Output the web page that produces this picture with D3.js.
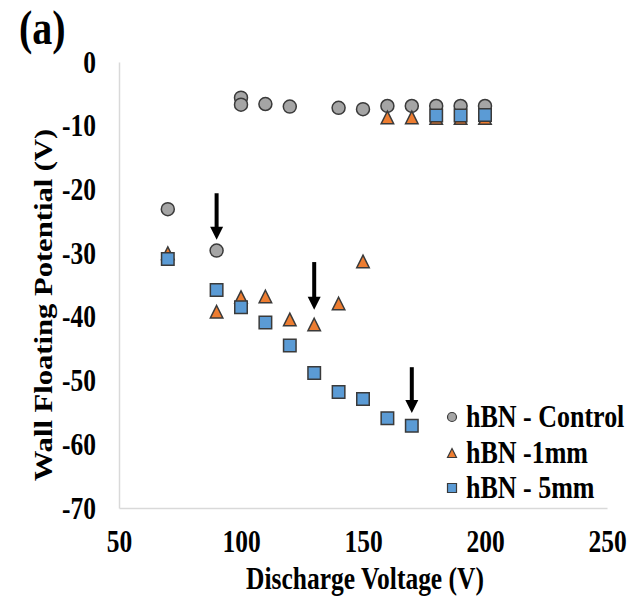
<!DOCTYPE html>
<html>
<head>
<meta charset="utf-8">
<script src="https://cdn.jsdelivr.net/npm/d3@7"></script>
<style>
  html, body { margin: 0; padding: 0; background: #fff; }
  svg { display: block; }
  text { font-family: "Liberation Serif", "Times New Roman", serif; font-weight: bold; fill: #000; }
</style>
</head>
<body>
<svg id="chart" width="640" height="597"></svg>
<script>
// ---- data ----
const xTicks = [50, 100, 150, 200, 250];
const yTicks = [0, -10, -20, -30, -40, -50, -60, -70];

const controlV = [70, 90, 100, 100, 110, 120, 140, 150, 160, 170, 180, 190, 200];
const controlP = [-23.1, -29.6, -5.6, -6.7, -6.6, -7.0, -7.2, -7.4, -6.9, -6.9, -6.9, -6.9, -6.9];

const mm1V = [70, 90, 100, 110, 120, 130, 140, 150, 160, 170, 180, 190, 200];
const mm1P = [-30.0, -39.2, -36.9, -36.8, -40.4, -41.2, -37.9, -31.3, -8.7, -8.7, -8.8, -8.8, -8.8];

const mm5V = [70, 90, 100, 110, 120, 130, 140, 150, 160, 170, 180, 190, 200];
const mm5P = [-30.9, -35.8, -38.5, -40.9, -44.5, -48.8, -51.8, -52.9, -55.9, -57.1, -8.4, -8.4, -8.3];

const seriesNames = ["hBN - Control", "hBN -1mm", "hBN - 5mm"];
const seriesColors = ["#a5a5a5", "#ed7d31", "#5b9bd5"];
const seriesShapes = ["circle", "triangle", "square"];

// arrows: [voltage, from, to]
const arrowV = [90, 130, 170];
const arrowFrom = [-20.6, -31.4, -47.9];
const arrowTo = [-27.9, -38.9, -55.1];

const xLabel = "Discharge Voltage (V)";
const yLabel = "Wall Floating Potential (V)";
const panelLabel = "(a)";

// ---- layout ----
const SY = 1.2; // vertical stretch of text
const FS = 25.5;
const plot = { left: 119, right: 607, top: 62, bottom: 508 };

const svg = d3.select("#chart");
const x = d3.scaleLinear().domain([50, 250]).range([plot.left, plot.right]);
const y = d3.scaleLinear().domain([-70, 0]).range([plot.bottom, plot.top]);

const fmt = d => String(d);

// axes
const gy = svg.append("g").attr("transform", `translate(${plot.left},0)`)
  .call(d3.axisLeft(y).tickValues(yTicks).tickSize(0).tickSizeOuter(0).tickPadding(23).tickFormat(fmt));
gy.select(".domain").attr("stroke", "#d9d9d9").attr("stroke-width", 1.5);
gy.selectAll(".tick text")
  .attr("font-size", FS).attr("font-family", null).attr("fill", "#000")
  .attr("dy", "0.33em").attr("transform", `scale(1,${SY})`);

const gx = svg.append("g").attr("transform", `translate(0,${plot.bottom})`)
  .call(d3.axisBottom(x).tickValues(xTicks).tickSize(0).tickSizeOuter(0).tickFormat(fmt));
gx.select(".domain").attr("stroke", "#d9d9d9").attr("stroke-width", 1.5);
gx.selectAll(".tick text")
  .attr("font-size", FS).attr("font-family", null).attr("fill", "#000")
  .attr("y", (552 - plot.bottom) / SY).attr("dy", 0)
  .attr("transform", `scale(1,${SY})`);

// symbols
function shapePath(shape, s) {
  const h = s / 2;
  if (shape === "circle") return d3.symbol(d3.symbolCircle, Math.PI * h * h)();
  if (shape === "square") return `M${-h},${-h}H${h}V${h}H${-h}Z`;
  return `M0,${-h}L${h},${h}L${-h},${h}Z`;
}

const series = [
  { v: controlV, p: controlP },
  { v: mm1V, p: mm1P },
  { v: mm5V, p: mm5P }
];
const markerSize = [13, 12.5, 12.5];

series.forEach((s, i) => {
  svg.append("g").selectAll("path")
    .data(s.v.map((v, j) => [v, s.p[j]]))
    .join("path")
    .attr("d", shapePath(seriesShapes[i], markerSize[i]))
    .attr("transform", d => `translate(${x(d[0])},${y(d[1])})`)
    .attr("fill", seriesColors[i])
    .attr("stroke", "#3a3a3a")
    .attr("stroke-width", 1.5);
});

// arrows
const ag = svg.append("g");
arrowV.forEach((v, i) => {
  const ax = x(v), y0 = y(arrowFrom[i]), y1 = y(arrowTo[i]);
  const headL = 13, headW = 6.5;
  ag.append("line").attr("x1", ax).attr("x2", ax).attr("y1", y0).attr("y2", y1 - headL + 1)
    .attr("stroke", "#000").attr("stroke-width", 4);
  ag.append("path").attr("d", `M${ax - headW},${y1 - headL}L${ax + headW},${y1 - headL}L${ax},${y1}Z`)
    .attr("fill", "#000");
});

// legend
const leg = svg.append("g");
const legY = [417, 453, 488];
seriesNames.forEach((name, i) => {
  leg.append("path")
    .attr("d", shapePath(seriesShapes[i], 9))
    .attr("transform", `translate(452,${legY[i]})`)
    .attr("fill", seriesColors[i]).attr("stroke", "#3a3a3a").attr("stroke-width", 1.2);
  leg.append("g").attr("transform", `translate(466,${legY[i] + 10}) scale(1,${SY})`)
    .append("text").attr("font-size", 26).text(name);
});

// axis labels
svg.append("g").attr("transform", `translate(${(plot.left + plot.right) / 2 + 2},589) scale(1,${SY})`)
  .append("text").attr("font-size", FS).attr("text-anchor", "middle").text(xLabel);
svg.append("g").attr("transform", `translate(52,305) scale(1,${SY}) rotate(-90)`)
  .append("text").attr("font-size", FS).attr("text-anchor", "middle").text(yLabel);

// panel label
svg.append("g").attr("transform", `translate(19,44) scale(1,${SY})`)
  .append("text").attr("font-size", 40).text(panelLabel);
</script>
</body>
</html>
